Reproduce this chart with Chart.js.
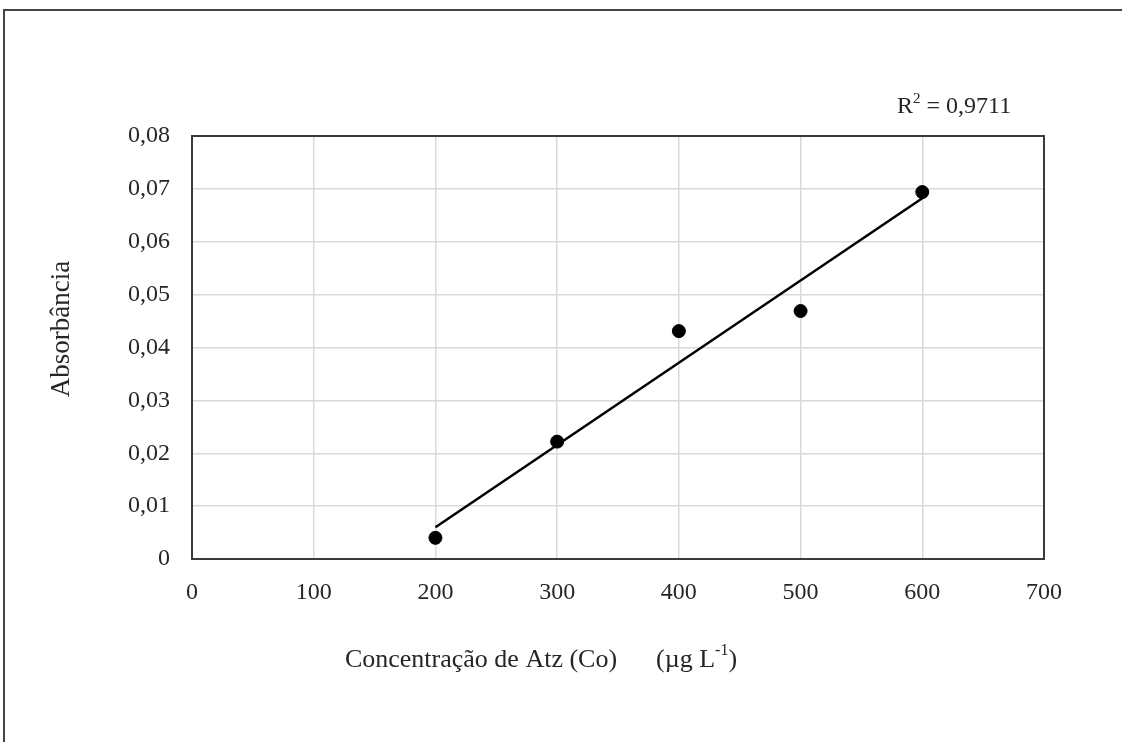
<!DOCTYPE html>
<html>
<head>
<meta charset="utf-8">
<script src="https://cdn.jsdelivr.net/npm/chart.js@4.4.1/dist/chart.umd.min.js"></script>
<style>
  html, body { margin: 0; padding: 0; background: #fff; }
  #wrap { width: 1122px; height: 742px; position: relative; }
</style>
</head>
<body>
<div id="wrap"><canvas id="curva"></canvas></div>
<script>
// dados
const concentracao = [200, 300, 400, 500, 600];
const absorbancia = [0.0040, 0.0222, 0.0431, 0.0469, 0.0694];
const xTicks = [0, 100, 200, 300, 400, 500, 600, 700];
const yTicks = [0, 0.01, 0.02, 0.03, 0.04, 0.05, 0.06, 0.07, 0.08];

// reta de regressão (mínimos quadrados) sobre os pontos
const n = concentracao.length;
const mx = concentracao.reduce((a, b) => a + b, 0) / n;
const my = absorbancia.reduce((a, b) => a + b, 0) / n;
let sxy = 0, sxx = 0;
for (let i = 0; i < n; i++) {
  sxy += (concentracao[i] - mx) * (absorbancia[i] - my);
  sxx += (concentracao[i] - mx) ** 2;
}
const incl = sxy / sxx;
const inter = my - incl * mx;
const xMin = Math.min(...concentracao), xMax = Math.max(...concentracao);
const tendencia = [
  { x: xMin, y: inter + incl * xMin },
  { x: xMax, y: inter + incl * xMax }
];

const fonte = '"Liberation Serif", "Times New Roman", serif';
const corTexto = '#262626';

// moldura, títulos dos eixos e R²
const textos = {
  id: 'textos',
  beforeDatasetsDraw(chart) {
    const { ctx, chartArea: a } = chart;
    ctx.save();
    ctx.strokeStyle = '#3a3a3a';
    ctx.lineWidth = 2;
    ctx.strokeRect(a.left, a.top, a.right - a.left, a.bottom - a.top);
    ctx.restore();
  },
  afterDraw(chart) {
    const { ctx } = chart;
    ctx.save();
    // moldura externa
    ctx.strokeStyle = '#444';
    ctx.lineWidth = 2;
    ctx.beginPath();
    ctx.moveTo(4, chart.height);
    ctx.lineTo(4, 10);
    ctx.lineTo(chart.width, 10);
    ctx.stroke();

    ctx.fillStyle = corTexto;
    ctx.textBaseline = 'middle';

    // título eixo y
    ctx.save();
    ctx.translate(62, 329);
    ctx.rotate(-Math.PI / 2);
    ctx.textAlign = 'center';
    ctx.font = '27px ' + fonte;
    ctx.fillText('Absorbância', 0, 0);
    ctx.restore();

    // título eixo x com sobrescrito
    const partes = [
      ['Concentração de Atz (Co)      (µg L', 26, 0],
      ['-1', 16, -9],
      [')', 26, 0]
    ];
    let largura = 0;
    partes.forEach(p => { ctx.font = p[1] + 'px ' + fonte; largura += ctx.measureText(p[0]).width; });
    let x = 541 - largura / 2;
    ctx.textAlign = 'left';
    partes.forEach(p => {
      ctx.font = p[1] + 'px ' + fonte;
      ctx.fillText(p[0], x, 660 + p[2]);
      x += ctx.measureText(p[0]).width;
    });

    // R²
    const r2 = [['R', 24, 0], ['2', 15, -8], [' = 0,9711', 24, 0]];
    x = 897;
    r2.forEach(p => {
      ctx.font = p[1] + 'px ' + fonte;
      ctx.fillText(p[0], x, 107 + p[2]);
      x += ctx.measureText(p[0]).width;
    });
    ctx.restore();
  }
};

const ctx = document.getElementById('curva').getContext('2d');

new Chart(ctx, {
  type: 'scatter',
  data: {
    datasets: [
      {
        label: 'Tendência',
        data: tendencia,
        showLine: true,
        borderColor: '#000',
        borderWidth: 2.5,
        pointRadius: 0,
        fill: false,
        order: 2
      },
      {
        label: 'Absorbância',
        data: concentracao.map((c, i) => ({ x: c, y: absorbancia[i] })),
        backgroundColor: '#000',
        borderColor: '#000',
        pointRadius: 6.5,
        pointHoverRadius: 6.5,
        order: 1
      }
    ]
  },
  options: {
    responsive: true,
    maintainAspectRatio: false,
    animation: false,
    layout: { padding: { left: 92, top: 136, right: 78, bottom: 123 } },
    plugins: {
      legend: { display: false },
      tooltip: { enabled: false }
    },
    scales: {
      x: {
        type: 'linear',
        min: 0,
        max: 700,
        afterFit(s) { s.height = 60; },
        afterBuildTicks(s) { s.ticks = xTicks.map(v => ({ value: v })); },
        grid: { color: '#d9d9d9', lineWidth: 1.5, drawTicks: false },
        border: { display: false },
        ticks: {
          color: corTexto,
          padding: 19,
          font: { family: fonte, size: 24 }
        }
      },
      y: {
        type: 'linear',
        min: 0,
        max: 0.08,
        afterFit(s) { s.width = 100; },
        afterBuildTicks(s) { s.ticks = yTicks.map(v => ({ value: v })); },
        grid: { color: '#d9d9d9', lineWidth: 1.5, drawTicks: false },
        border: { display: false },
        ticks: {
          color: corTexto,
          padding: 22,
          font: { family: fonte, size: 24 },
          callback: v => v === 0 ? '0' : v.toFixed(2).replace('.', ',')
        }
      }
    }
  },
  plugins: [textos]
});
</script>
</body>
</html>
